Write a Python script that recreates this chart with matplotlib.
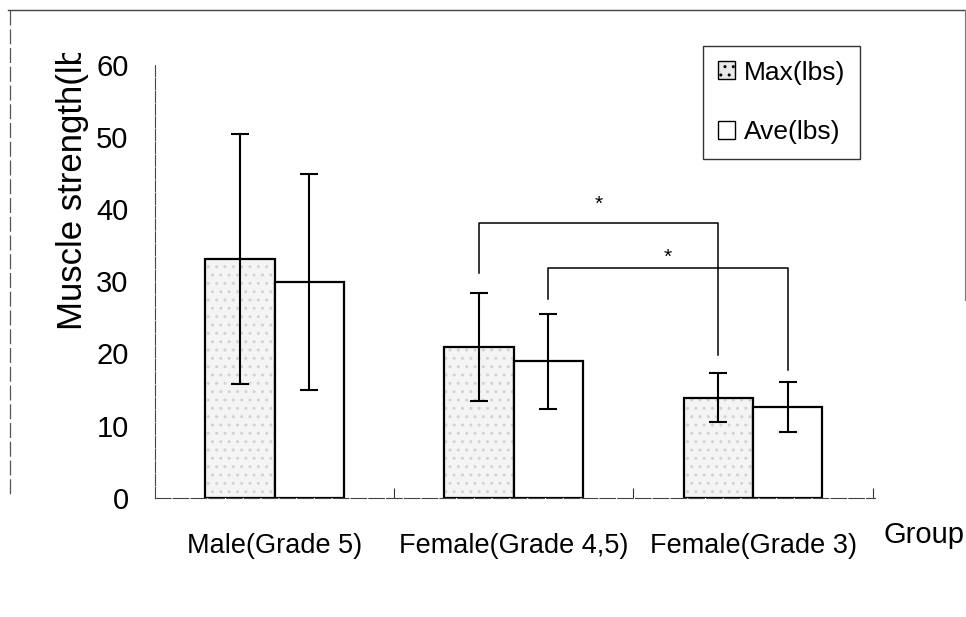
import matplotlib
matplotlib.use("Agg")
import matplotlib.pyplot as plt
from matplotlib.patches import Patch
from matplotlib.lines import Line2D
from matplotlib.transforms import Bbox, TransformedBbox
import numpy as np

plt.rcParams['font.family'] = ['Liberation Sans', 'DejaVu Sans']

# ---- data ----
groups = ["Male(Grade 5)", "Female(Grade 4,5)", "Female(Grade 3)"]
max_mean = [33.1, 20.9, 13.9]
max_sd = [17.3, 7.45, 3.4]
ave_mean = [29.9, 18.9, 12.6]
ave_sd = [15.0, 6.55, 3.45]
series_labels = ["Max(lbs)", "Ave(lbs)"]
yticks = [0, 10, 20, 30, 40, 50, 60]
ylabel = "Muscle strength(lbs)"
xlabel = "Group"
# significance brackets heights
brk1_left = 31.1
brk1_top = 38.1
brk1_right = 19.8
brk1_star = 40.7
brk2_left = 27.6
brk2_top = 31.8
brk2_right = 17.7
brk2_star = 33.3

W, H = 966, 617
fig = plt.figure(figsize=(W / 100, H / 100), dpi=100)
ax = fig.add_axes([155 / W, 1 - 498 / H, (875 - 155) / W, (498 - 64.5) / H])

x = np.arange(len(groups))
bw = 0.29
xm = x - bw / 2
xa = x + bw / 2

# stippled fill for Max bars
ax.bar(xm, max_mean, bw, color='#f4f4f4', edgecolor='#d2d2d2', linewidth=0,
       hatch='..', zorder=1)
ax.bar(xm, max_mean, bw, color='none', edgecolor='black', linewidth=1.6, zorder=2)
ax.bar(xa, ave_mean, bw, color='white', edgecolor='black', linewidth=1.6, zorder=2)

ax.errorbar(xm, max_mean, yerr=max_sd, fmt='none', ecolor='black',
            elinewidth=1.5, capsize=6.5, capthick=1.5, zorder=3)
ax.errorbar(xa, ave_mean, yerr=ave_sd, fmt='none', ecolor='black',
            elinewidth=1.5, capsize=6.5, capthick=1.5, zorder=3)

# brackets
ax.plot([xm[1], xm[1], xm[2], xm[2]], [brk1_left, brk1_top, brk1_top, brk1_right],
        color='black', lw=1.1, zorder=4)
ax.text((xm[1] + xm[2]) / 2, brk1_star, '*', ha='center', va='center', fontsize=15)
ax.plot([xa[1], xa[1], xa[2], xa[2]], [brk2_left, brk2_top, brk2_top, brk2_right],
        color='black', lw=1.1, zorder=4)
ax.text((xa[1] + xa[2]) / 2, brk2_star, '*', ha='center', va='center', fontsize=15)

ax.set_xlim(-0.5, 2.51)
ax.set_ylim(0, 60)
ax.set_yticks(yticks)
ax.set_yticklabels([str(t) for t in yticks], fontsize=21)
ax.tick_params(axis='y', length=0, pad=19)
ax.set_xticks(x)
ax.set_xticklabels(groups, fontsize=19.5)
ax.tick_params(axis='x', which='major', length=0, pad=25)
ax.set_xticks([0.5, 1.5, 2.5], minor=True)
ax.tick_params(axis='x', which='minor', direction='in', length=7, width=0.8, color='#333333')

for s in ['top', 'right']:
    ax.spines[s].set_visible(False)
ax.spines['left'].set_color('#444444')
ax.spines['left'].set_linewidth(0.8)
ax.spines['left'].set_linestyle((0, (10, 1.5)))
ax.spines['bottom'].set_color('#444444')
ax.spines['bottom'].set_linewidth(0.8)
ax.spines['bottom'].set_linestyle((0, (14, 2)))

# y label, clipped at top like reference
yl = fig.text(82 / W, 1 - 330 / H, ylabel, rotation=90, rotation_mode='anchor',
              ha='left', va='baseline', fontsize=25)
yl.set_clip_box(TransformedBbox(Bbox([[0, 0], [1, 1 - 53 / H]]), fig.transFigure))
yl.set_clip_on(True)

fig.text(924 / W, 1 - 543 / H, xlabel, ha='center', va='baseline', fontsize=21)

# legend
handles = [Patch(facecolor='#e8e8e8', edgecolor='black', hatch='..', linewidth=1.0),
           Patch(facecolor='white', edgecolor='black', linewidth=1.0)]
leg = fig.legend(handles, series_labels, loc='upper left',
                 bbox_to_anchor=(703 / W, 1 - 46 / H), bbox_transform=fig.transFigure,
                 fontsize=19, frameon=True, fancybox=False, edgecolor='black',
                 handlelength=0.65, handleheight=0.65, handletextpad=0.35,
                 borderpad=0.55, labelspacing=1.35, borderaxespad=0)
leg.get_frame().set_linewidth(1.0)

# outer chart frame
fig.add_artist(Line2D([8 / W, 965 / W], [1 - 10 / H, 1 - 10 / H], color='#444444', lw=1.0))
fig.add_artist(Line2D([10 / W, 10 / W], [1 - 10 / H, 1 - 495 / H], color='#555555', lw=0.9,
                      linestyle=(0, (12, 3))))
fig.add_artist(Line2D([965 / W, 965 / W], [1 - 10 / H, 1 - 300 / H], color='#777777', lw=0.8))

fig.savefig("out.png", dpi=100)
